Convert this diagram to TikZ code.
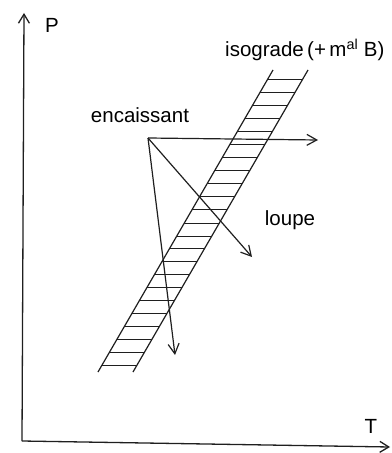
\documentclass[tikz,border=0pt]{standalone}
\usepackage{fontspec}
\setmainfont{Liberation Sans}
\usetikzlibrary{arrows.meta,calc}
\begin{document}
\begin{tikzpicture}[
    x=1bp,y=-1bp,
    axis/.style={draw=black!88,line width=1.3bp,-{Straight Barb[length=9bp,width=11bp]}},
    trend/.style={draw=black!88,line width=1.2bp,-{Straight Barb[length=10bp,width=11bp]}},
    rail/.style={draw=black!88,line width=1.2bp},
    rung/.style={draw=black!88,line width=1bp},
    lbl/.style={font=\fontsize{20.5bp}{24bp}\selectfont,inner sep=0pt},
  ]
    \useasboundingbox (0,0) rectangle (391,453);
    % P-T axes, drawn from a common corner
    \coordinate (O) at (22,441);
    \coordinate (Ptip) at (24,13);
    \coordinate (Ttip) at (390,447);
    \draw[axis] (O) -- (Ptip);
    \draw[axis] (O) -- (Ttip);
    \node[lbl,anchor=base] (P) at (52,33) {P};
    \node[lbl,anchor=base] (T) at (371,433) {T};
    % isograd band: two rails and the rungs in between
    \coordinate (lt) at (273,70);
    \coordinate (lb) at (98,372);
    \coordinate (rt) at (308,70);
    \coordinate (rb) at (133,372);
    \draw[rail] (lt) -- (lb);
    \draw[rail] (rt) -- (rb);
    \foreach \k in {0,...,22} {
      \pgfmathsetmacro\t{(10+13*\k)/302}
      \draw[rung] ($(lt)!\t!(lb)$) -- ($(rt)!\t!(rb)$);
    }
    \node[lbl,anchor=base west] (iso) at (225,57) {isograde\,(+\,m\textsuperscript{al} B)};
    % paths leaving the country rock
    \coordinate (enc) at (148,138);
    \coordinate (east) at (318,140);
    \coordinate (diag) at (252,257);
    \coordinate (down) at (175,355);
    \draw[trend] (enc) -- (east);
    \draw[trend] (enc) -- (diag);
    \draw[trend] (enc) -- (down);
    \node[lbl,anchor=base] (encais) at (140,123) {encaissant};
    \node[lbl,anchor=base] (loupe) at (290,226) {loupe};
  \end{tikzpicture}
\end{document}
